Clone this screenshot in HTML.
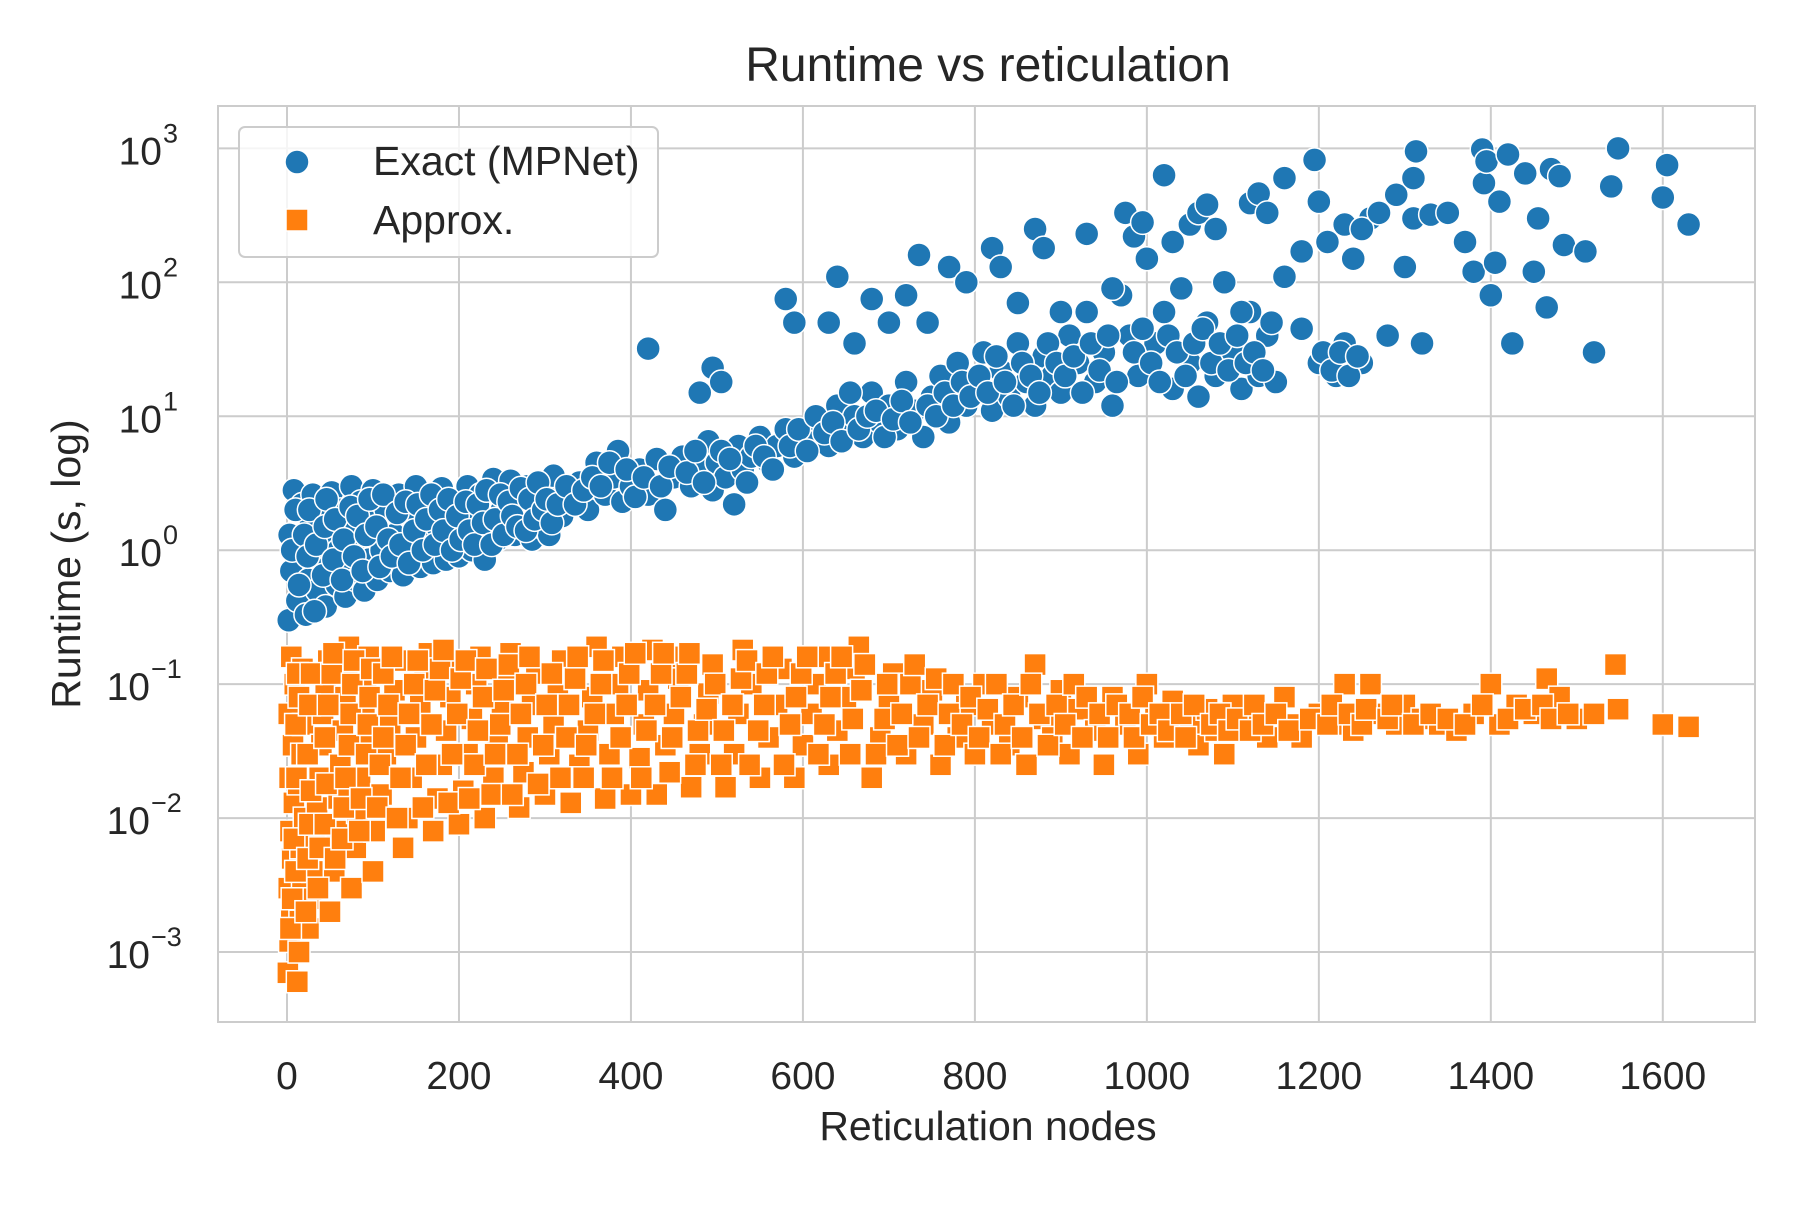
<!DOCTYPE html>
<html><head><meta charset="utf-8"><style>
body{margin:0;background:#fff;}
svg{font-family:"Liberation Sans",sans-serif;}
</style></head><body>
<svg id="chart" width="1800" height="1200" viewBox="0 0 1800 1200">
<rect x="0" y="0" width="1800" height="1200" fill="#fff"/>
<g id="grid"></g>
<g id="marks"></g>
<rect x="218" y="106" width="1537" height="916" fill="none" stroke="#cccccc" stroke-width="2"/>
<g id="ticks"></g>
<text x="988" y="81" font-size="48" text-anchor="middle" fill="#262626">Runtime vs reticulation</text>
<text x="988" y="1140" font-size="41" text-anchor="middle" fill="#262626">Reticulation nodes</text>
<text transform="translate(80,564) rotate(-90)" font-size="41" text-anchor="middle" fill="#262626">Runtime (s, log)</text>
<g>
<rect x="239" y="127" width="419" height="130" rx="6" fill="#fff" fill-opacity="0.8" stroke="#cccccc" stroke-width="2"/>
<circle cx="297" cy="162" r="12" fill="#1f77b4" stroke="#fff" stroke-width="1.5"/>
<text x="373" y="175" font-size="41" fill="#262626">Exact (MPNet)</text>
<rect x="286" y="209" width="22" height="22" fill="#ff7f0e" stroke="#fff" stroke-width="1.5"/>
<text x="373" y="234" font-size="41" fill="#262626">Approx.</text>
</g>
</svg>
<script>
const xTicks=[0,200,400,600,800,1000,1200,1400,1600];
const yTickExps=[-3,-2,-1,0,1,2,3];
const exactX=[2,5,3,8,12,15,18,22,25,28,30,35,38,40,45,48,50,52,58,60,62,68,70,72,75,80,84,86,90,95,98,100,
105,110,115,120,125,130,135,140,145,150,155,160,165,170,175,180,185,190,195,200,205,210,215,220,225,230,235,240,245,250,255,260,265,270,275,280,285,290,295,300,305,310,
320,330,340,350,360,370,380,385,390,400,410,420,430,440,450,460,470,480,490,495,500,510,520,525,530,540,550,560,570,580,590,600,
610,620,630,640,650,660,670,680,690,700,710,720,730,740,750,760,770,780,790,800,810,820,830,840,850,860,870,880,890,900,
910,920,930,940,950,960,970,980,990,1000,1010,1020,1030,1040,1050,1060,1070,1080,1090,1100,1110,1120,1130,1140,1150,1160,1180,1200,1210,1220,1230,1240,1250,1260,1280,1300,1310,1320,
420,480,495,505,580,590,640,630,660,680,700,720,735,745,770,790,820,830,850,870,880,900,930,960,975,985,995,1020,1030,1050,1060,1070,1080,1110,1120,1130,1140,1160,1180,1195,1200,1230,1250,1270,1290,1310,1313,1330,1350,1370,1380,1390,1392,1395,1400,1405,1410,1420,1425,1440,1450,1455,1465,1470,1480,1485,1510,1520,1540,1548,1600,1605,1630,
6,10,14,20,24,26,32,34,42,44,46,54,56,64,66,74,78,82,88,92,96,104,108,112,118,122,128,132,138,142,148,152,158,162,168,172,178,182,188,192,198,202,208,212,218,222,228,232,238,242,248,252,258,262,268,272,278,282,288,292,298,302,308,315,325,335,345,355,365,375,395,405,415,435,445,465,475,485,505,515,535,545,555,565,585,595,605,615,625,635,645,655,665,675,685,695,705,715,725,745,755,765,775,785,795,805,815,825,835,845,855,865,875,885,895,905,915,925,935,945,955,965,985,995,1005,1015,1025,1035,1045,1055,1065,1075,1085,1095,1105,1115,1125,1135,1145,1205,1215,1225,1235,1245];
const exactY=[0.3,0.7,1.3,2.8,0.42,1.0,2.2,0.33,0.6,1.6,2.6,0.5,0.9,1.9,0.38,0.75,1.3,2.7,0.55,1.0,2.0,0.45,0.7,1.4,3.0,0.6,1.1,2.3,0.5,0.85,1.6,2.8,
0.6,1.0,2.0,0.7,1.3,2.6,0.65,1.0,1.8,3.0,0.75,1.2,2.2,0.8,1.5,2.9,0.85,1.3,2.0,0.9,1.6,3.0,1.0,1.8,2.6,0.85,1.4,3.4,1.2,2.0,1.5,3.3,1.3,2.3,1.7,3.0,1.2,2.0,1.5,2.8,1.3,3.6,
1.8,2.5,3.2,2.0,4.5,2.6,3.5,5.5,2.3,3.0,4.0,2.6,4.8,2.0,3.5,5.0,3.0,4.0,6.5,2.8,4.5,3.5,2.2,6.0,4.0,5.0,7.0,4.5,6.0,8.0,5.0,6.5,
7,9,6,12,8,10,7,15,9,12,8,18,11,7,14,20,9,25,12,16,30,11,22,14,35,18,12,28,20,15,
40,25,60,18,30,12,80,40,20,150,35,60,16,90,25,14,50,20,100,30,16,60,20,40,18,110,45,25,200,20,35,150,25,300,40,130,300,35,
32,15,23,18,75,50,110,50,35,75,50,80,160,50,130,100,180,130,70,250,180,60,230,90,330,220,280,630,200,270,330,380,250,60,390,460,330,600,170,820,400,270,250,330,450,600,950,320,330,200,120,980,550,800,80,140,400,900,35,650,120,300,65,700,620,190,170,30,520,1000,430,750,270,
1.0,2.0,0.55,1.3,0.9,2.0,0.35,1.1,0.65,1.5,2.4,0.85,1.7,0.6,1.2,2.1,0.9,1.8,0.7,1.3,2.4,1.5,0.75,2.6,1.2,0.9,1.9,1.1,2.3,0.8,1.4,2.2,1.0,1.7,2.6,1.1,2.0,1.4,2.4,1.0,1.8,1.2,2.3,1.4,1.1,2.2,1.6,2.8,1.1,1.7,2.6,1.3,2.3,1.8,1.5,2.9,1.4,2.4,1.7,3.2,2.0,2.4,1.6,2.2,3.0,2.2,2.8,3.5,3.0,4.5,4.0,2.5,3.5,3.0,4.2,3.8,5.5,3.2,5.5,4.8,3.2,6.0,5.0,4.0,6.0,8.0,5.5,10,7.5,9,6.5,15,8,10,11,7,9.5,13,9,12,10,15,12,18,14,20,15,28,18,12,25,20,15,35,25,20,28,15,35,22,40,18,30,45,25,18,40,30,20,35,45,25,35,22,40,25,30,22,50,30,22,30,20,28];
const approxX=[1,3,5,2,6,4,8,3,7,2,9,5,12,14,15,18,16,20,13,17,19,14,18,
25,28,30,32,35,38,40,42,45,48,50,55,58,60,62,65,68,70,72,75,80,82,85,88,90,92,95,100,102,
110,115,120,125,130,135,140,145,150,155,160,165,170,175,180,185,190,195,200,205,210,215,220,225,230,240,245,250,255,260,270,275,280,285,290,300,305,310,315,320,
330,340,350,355,360,370,375,380,385,390,400,410,415,420,425,430,440,450,455,460,470,480,485,490,495,510,520,525,530,540,550,560,570,575,590,600,610,615,620,630,640,650,660,665,680,690,700,705,
720,740,750,760,780,790,800,810,820,840,850,860,870,880,890,900,910,920,940,950,960,975,990,1000,1010,1020,1030,1050,1060,1070,1080,1090,1100,
1110,1130,1140,1160,1170,1180,1200,1220,1230,1240,1260,1270,1290,1300,1320,1340,1360,1380,1400,1410,1430,1450,1465,1480,1500,1520,1545,1548,1600,1630,
4,6,10,8,11,10,12,22,24,26,28,24,26,28,36,38,44,46,44,48,52,54,56,64,66,68,72,74,76,78,84,86,92,94,96,98,
105,108,112,118,112,122,128,132,138,142,148,152,158,162,168,172,178,182,188,192,198,202,208,212,218,222,228,232,238,242,248,252,258,262,268,272,278,282,292,298,302,308,318,325,328,335,338,345,348,358,365,368,378,388,395,398,405,412,418,428,435,438,445,448,458,465,468,475,478,488,498,505,508,518,528,535,538,548,555,558,565,578,585,592,598,605,618,625,632,638,645,655,658,668,672,685,695,698,710,715,725,730,
735,745,755,765,770,775,785,795,805,815,825,830,835,845,855,865,875,885,895,905,915,925,930,945,955,965,980,985,995,1005,1015,1025,1040,1045,1055,1075,1085,1095,1105,1120,1125,1135,1150,1165,1190,1210,1215,1235,1250,1255,1280,1285,1310,1330,1350,1370,1390,1420,1440,1460,1470,1490];
const approxY=[0.0007,0.0012,0.002,0.003,0.005,0.008,0.013,0.02,0.035,0.06,0.1,0.16,0.0006,0.001,0.0017,0.003,0.006,0.01,0.018,0.03,0.05,0.08,0.13,
0.0015,0.0025,0.004,0.007,0.012,0.02,0.035,0.06,0.1,0.15,0.002,0.004,0.008,0.014,0.025,0.045,0.08,0.13,0.19,0.003,0.006,0.011,0.02,0.035,0.06,0.1,0.16,0.004,0.008,
0.015,0.03,0.05,0.09,0.15,0.006,0.01,0.02,0.04,0.07,0.12,0.17,0.008,0.014,0.025,0.045,0.08,0.14,0.009,0.016,0.03,0.055,0.1,0.16,0.01,0.02,0.035,0.065,0.11,0.17,0.012,0.022,0.04,0.07,0.12,0.015,0.03,0.05,0.09,0.15,
0.013,0.025,0.045,0.08,0.19,0.014,0.03,0.06,0.1,0.16,0.015,0.028,0.05,0.09,0.18,0.015,0.035,0.06,0.11,0.16,0.017,0.03,0.05,0.085,0.14,0.017,0.03,0.06,0.18,0.1,0.02,0.04,0.07,0.13,0.02,0.035,0.06,0.1,0.16,0.025,0.045,0.08,0.13,0.19,0.02,0.04,0.07,0.12,
0.03,0.05,0.09,0.025,0.04,0.07,0.03,0.1,0.05,0.035,0.08,0.025,0.14,0.055,0.04,0.09,0.03,0.065,0.045,0.025,0.08,0.05,0.03,0.1,0.06,0.04,0.075,0.05,0.035,0.065,0.045,0.03,0.07,
0.05,0.06,0.04,0.08,0.05,0.04,0.06,0.05,0.1,0.045,0.1,0.06,0.05,0.07,0.055,0.05,0.045,0.06,0.1,0.05,0.07,0.06,0.11,0.08,0.055,0.06,0.14,0.065,0.05,0.048,
0.0015,0.0025,0.004,0.007,0.02,0.05,0.12,0.002,0.005,0.009,0.016,0.03,0.07,0.12,0.003,0.006,0.009,0.018,0.04,0.07,0.12,0.17,0.005,0.007,0.012,0.02,0.035,0.06,0.1,0.15,0.008,0.014,0.03,0.05,0.08,0.13,
0.012,0.025,0.04,0.07,0.12,0.16,0.01,0.02,0.035,0.06,0.1,0.15,0.012,0.025,0.05,0.09,0.13,0.18,0.013,0.03,0.06,0.11,0.15,0.014,0.025,0.045,0.08,0.13,0.015,0.03,0.05,0.09,0.14,0.015,0.03,0.06,0.1,0.16,0.018,0.035,0.07,0.12,0.02,0.04,0.07,0.11,0.16,0.02,0.035,0.06,0.1,0.15,0.02,0.04,0.07,0.12,0.17,0.02,0.045,0.07,0.12,0.17,0.022,0.04,0.08,0.12,0.17,0.025,0.045,0.065,0.1,0.025,0.045,0.07,0.11,0.15,0.025,0.045,0.07,0.12,0.16,0.025,0.05,0.08,0.12,0.16,0.03,0.05,0.08,0.12,0.16,0.03,0.055,0.09,0.14,0.03,0.055,0.1,0.035,0.06,0.1,0.14,
0.04,0.07,0.11,0.035,0.06,0.1,0.05,0.08,0.04,0.065,0.1,0.03,0.05,0.07,0.04,0.1,0.06,0.035,0.07,0.05,0.1,0.04,0.08,0.06,0.04,0.07,0.06,0.04,0.08,0.05,0.06,0.045,0.06,0.04,0.07,0.05,0.06,0.045,0.055,0.045,0.07,0.05,0.06,0.045,0.055,0.05,0.07,0.06,0.05,0.065,0.055,0.07,0.05,0.06,0.055,0.05,0.07,0.055,0.065,0.07,0.055,0.06];

const NS='http://www.w3.org/2000/svg';
function xs(v){return 287+v*(1662.8-287)/1600;}
function ys(v){return 550.2-Math.log10(v)*133.95;}
const grid=document.getElementById('grid'),marks=document.getElementById('marks'),ticks=document.getElementById('ticks');
xTicks.forEach(t=>{
  const l=document.createElementNS(NS,'line');
  l.setAttribute('x1',xs(t));l.setAttribute('x2',xs(t));l.setAttribute('y1',106);l.setAttribute('y2',1022);
  l.setAttribute('stroke','#cccccc');l.setAttribute('stroke-width','2');
  
  
  grid.appendChild(l);
  const tx=document.createElementNS(NS,'text');
  tx.setAttribute('x',xs(t));tx.setAttribute('y',1089);tx.setAttribute('font-size','39');tx.setAttribute('text-anchor','middle');tx.setAttribute('fill','#262626');
  tx.textContent=t;
  
  
  ticks.appendChild(tx);
});
yTickExps.forEach(e=>{
  const y=ys(Math.pow(10,e));
  const l=document.createElementNS(NS,'line');
  l.setAttribute('x1',218);l.setAttribute('x2',1755);l.setAttribute('y1',y);l.setAttribute('y2',y);
  l.setAttribute('stroke','#cccccc');l.setAttribute('stroke-width','2');
  
  
  grid.appendChild(l);
  const tx=document.createElementNS(NS,'text');
  tx.setAttribute('x',e<0?150:162);tx.setAttribute('y',y+16);tx.setAttribute('font-size','39');tx.setAttribute('text-anchor','end');tx.setAttribute('fill','#262626');
  tx.textContent='10';
  
  
  ticks.appendChild(tx);
  const sp=document.createElementNS(NS,'text');
  sp.setAttribute('x',e<0?151:163);sp.setAttribute('y',y-6);sp.setAttribute('font-size','27');sp.setAttribute('fill','#262626');
  sp.textContent=e<0?'\u2212'+(-e):String(e);
  
  
  ticks.appendChild(sp);
});
exactX.forEach((x,i)=>{
  const c=document.createElementNS(NS,'circle');
  c.setAttribute('cx',xs(x));c.setAttribute('cy',ys(exactY[i]));c.setAttribute('r','12');
  c.setAttribute('fill','#1f77b4');c.setAttribute('stroke','#fff');c.setAttribute('stroke-width','1.5');
  
  
  marks.appendChild(c);
});
approxX.forEach((x,i)=>{
  const r=document.createElementNS(NS,'rect');
  r.setAttribute('x',xs(x)-11);r.setAttribute('y',ys(approxY[i])-11);r.setAttribute('width','22');r.setAttribute('height','22');
  r.setAttribute('fill','#ff7f0e');r.setAttribute('stroke','#fff');r.setAttribute('stroke-width','1.5');
  
  
  marks.appendChild(r);
});
</script>
</body></html>
